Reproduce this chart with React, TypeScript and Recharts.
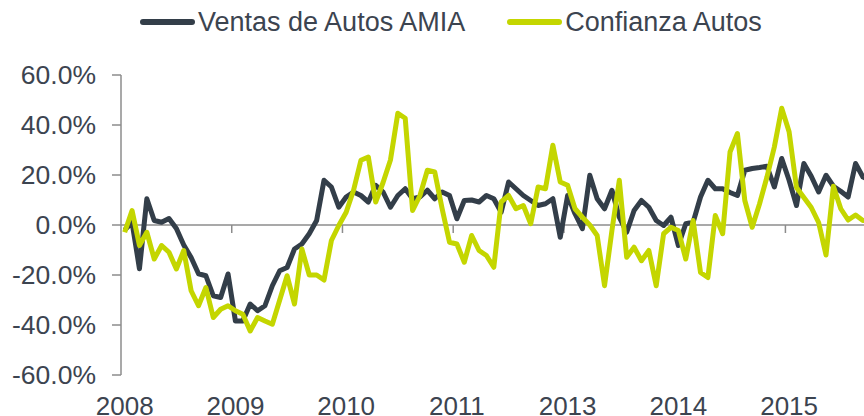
import { LineChart, Line, XAxis, YAxis, ReferenceLine, Legend } from "recharts"

// monthly series starting Jan 2008 (index 0)
const ventasAMIA = [
  -2, 1, -17.5, 10.5, 1.8, 1.1, 2.6, -1.4, -8, -13,
  -19.5, -20.3, -28.3, -29, -19.6, -38.4, -38.4, -31.6, -34.3, -32.3,
  -24.3, -18.3, -17, -9.6, -7.6, -3.5, 1.8, 17.9, 15.2, 7.1,
  11.2, 13.2, 11.8, 9.2, 15.9, 13.2, 7.1, 11.8, 14.5, 10.5,
  11.2, 13.9, 10.5, 13.2, 11.8, 2.5, 9.8, 10, 9.2, 11.8,
  10.5, 5.1, 17.2, 14.5, 11.8, 9.8, 7.8, 8.5, 10.5, -4.9,
  11.8, 4.5, -1.5, 19.9, 10.5, 6.5, 13.9, 3.1, -2.9, 5.8,
  9.8, 7.1, 1.8, -0.2, 3.1, -8.2, 0.5, 1.1, 11.2, 17.9,
  14.5, 14.5, 13, 11.8, 21.9, 22.6, 23, 23.5, 15.2, 26.6,
  17.9, 7.8, 24.6, 19.5, 13.2, 19.9, 15.5, 13.5, 11.2, 24.6,
  19.2, 18,
]

const confianzaAutos = [
  -2.9, 5.8, -8.2, -2.9, -13.6, -8.2, -10.9, -17.6, -10.2, -26.3,
  -32.3, -25, -37, -33.7, -32.3, -34.3, -35.7, -42.4, -37, -38.4,
  -39.7, -30, -20.3, -31.6, -9.6, -20, -20, -22, -6.2, -0.2,
  5.1, 13.9, 25.9, 27.2, 9.2, 17, 26, 44.7, 42.7, 5.8,
  11.8, 21.9, 21.2, 6.5, -6.9, -7.6, -14.9, -4.2, -10.2, -12.2,
  -16.9, 9.2, 11.8, 6.5, 7.8, 0.5, 15.2, 14.5, 31.9, 17.2,
  15.9, 6.5, 3.1, 0, -4.2, -24.3, -2.2, 17.9, -12.9, -8.9,
  -14.3, -10.2, -24.3, -3.5, -0.9, -2.2, -13.6, 1.8, -19, -21,
  3.8, -3.5, 29.2, 36.6, 9.8, -0.9, 8.5, 19.2, 31.2, 46.7,
  37.3, 15, 11, 7, 1, -12, 15.5, 6.5, 2, 4,
  1.8, 1.5,
]

const xTicks = [0, 15, 30, 45, 60, 75, 90]
const xTickLabels = ["2008", "2009", "2010", "2011", "2013", "2014", "2015"]
const yTicks = [-60, -40, -20, 0, 20, 40, 60]

const DARK = "#333e49"
const GREEN = "#c4d600"
const AXIS = "#8c8c8c"
const TEXT = "#3c4450"

const data = ventasAMIA.map((v, i) => ({ idx: i, ventas: v, confianza: confianzaAutos[i] }))

const legendItems = [
  { name: "Ventas de Autos AMIA", color: DARK },
  { name: "Confianza Autos", color: GREEN },
]

function ChartLegend() {
  return (
    <div style={{ height: 44, display: "flex", alignItems: "center", paddingLeft: 140, fontSize: 27, color: TEXT }}>
      {legendItems.map((item, i) => (
        <div key={item.name} style={{ display: "flex", alignItems: "center", marginLeft: i === 0 ? 0 : 42 }}>
          <span
            style={{ display: "inline-block", width: 55, height: 6, borderRadius: 3, background: item.color, marginRight: 3 }}
          />
          <span>{item.name}</span>
        </div>
      ))}
    </div>
  )
}

export default function App() {
  return (
    <div
      style={{
        position: "absolute",
        left: 0,
        top: 0,
        width: 864,
        height: 416,
        overflow: "hidden",
        background: "#fff",
        fontFamily: "'Liberation Sans', Arial, sans-serif",
      }}
    >
      <LineChart width={874} height={416} data={data} margin={{ top: 31, right: 0, left: 0, bottom: 0 }}>
        <Legend verticalAlign="top" content={<ChartLegend />} wrapperStyle={{ top: 0, left: 0, width: 864 }} />
        <XAxis
          dataKey="idx"
          type="number"
          domain={[-0.5, 101.5]}
          ticks={xTicks}
          interval={0}
          tickFormatter={(v) => xTickLabels[xTicks.indexOf(v)]}
          axisLine={false}
          tickLine={false}
          tickSize={0}
          tickMargin={22}
          height={41}
          fontSize={26}
          tick={{ fontSize: 26, fill: TEXT }}
        />
        <YAxis
          type="number"
          domain={[-60, 60]}
          ticks={yTicks}
          interval={0}
          tickFormatter={(v) => v.toFixed(1) + "%"}
          width={121}
          axisLine={{ stroke: AXIS, strokeWidth: 1.5 }}
          tickLine={{ stroke: AXIS, strokeWidth: 1.5 }}
          tickSize={9}
          tickMargin={16}
          fontSize={26.5}
          tick={{ fontSize: 26.5, fill: TEXT }}
        />
        <ReferenceLine y={0} stroke={AXIS} strokeWidth={1.5} />
        {xTicks.slice(1).map((t) => (
          <ReferenceLine
            key={t}
            segment={[
              { x: t - 0.5, y: 0 },
              { x: t - 0.5, y: -3.2 },
            ]}
            stroke={AXIS}
            strokeWidth={1.5}
          />
        ))}
        <Line
          type="linear"
          dataKey="ventas"
          stroke={DARK}
          strokeWidth={5}
          strokeLinejoin="round"
          dot={false}
          isAnimationActive={false}
        />
        <Line
          type="linear"
          dataKey="confianza"
          stroke={GREEN}
          strokeWidth={5}
          strokeLinejoin="round"
          dot={false}
          isAnimationActive={false}
        />
      </LineChart>
    </div>
  )
}
